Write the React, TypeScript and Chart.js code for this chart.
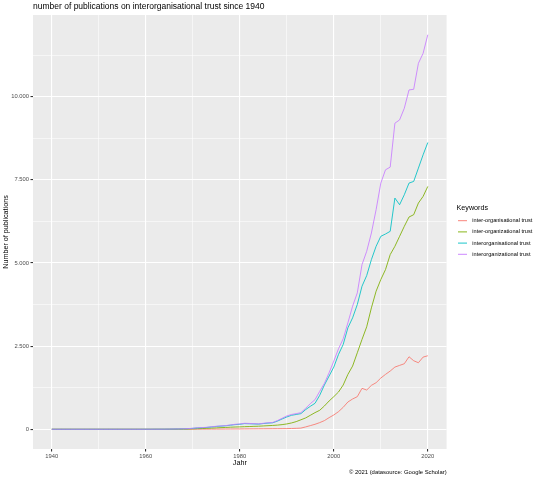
import React, { useEffect, useRef } from 'react';
import { Chart, registerables } from 'chart.js';

Chart.register(...registerables);

const years = [
  1940, 1941, 1942, 1943, 1944, 1945, 1946, 1947, 1948, 1949,
  1950, 1951, 1952, 1953, 1954, 1955, 1956, 1957, 1958, 1959,
  1960, 1961, 1962, 1963, 1964, 1965, 1966, 1967, 1968, 1969,
  1970, 1971, 1972, 1973, 1974, 1975, 1976, 1977, 1978, 1979,
  1980, 1981, 1982, 1983, 1984, 1985, 1986, 1987, 1988, 1989,
  1990, 1991, 1992, 1993, 1994, 1995, 1996, 1997, 1998, 1999,
  2000, 2001, 2002, 2003, 2004, 2005, 2006, 2007, 2008, 2009,
  2010, 2011, 2012, 2013, 2014, 2015, 2016, 2017, 2018, 2019,
  2020,
];

const keywords = [
  'inter-organisational trust',
  'inter-organizational trust',
  'interorganisational trust',
  'interorganizational trust',
];

const seriesColors = ['#F8766D', '#7CAE00', '#00BFC4', '#C77CFF'];

// inter-organisational trust
const interOrganisational = [
  0, 0, 0, 0, 0, 0, 0, 0, 0, 0,
  0, 0, 0, 0, 0, 0, 0, 0, 0, 0,
  0, 0, 0, 0, 0, 0, 0, 1, 1, 1,
  2, 2, 3, 3, 4, 5, 6, 7, 8, 9,
  10, 11, 12, 13, 14, 15, 16, 17, 18, 19,
  20, 24, 28, 35, 70, 110, 150, 200, 260, 350,
  430, 530, 660, 820, 910, 980, 1230, 1180, 1320, 1400,
  1540, 1650, 1750, 1870, 1920, 1970, 2180, 2060, 2000, 2170,
  2210,
];

// inter-organizational trust
const interOrganizational = [
  0, 0, 0, 0, 0, 0, 0, 0, 0, 0,
  0, 0, 0, 0, 0, 0, 0, 0, 0, 0,
  0, 0, 1, 1, 1, 2, 3, 4, 6, 8,
  12, 18, 22, 28, 35, 42, 50, 55, 62, 68,
  72, 78, 82, 88, 92, 100, 108, 115, 125, 140,
  160, 190, 230, 285, 340, 420, 500, 570, 700, 850,
  980, 1120, 1330, 1650, 1900, 2300, 2700, 3080, 3650, 4150,
  4500, 4800, 5250, 5500, 5800, 6100, 6380, 6450, 6800, 7000,
  7300,
];

// interorganisational trust
const interorganisational = [
  0, 0, 0, 0, 0, 0, 0, 0, 0, 0,
  0, 0, 0, 0, 0, 0, 0, 0, 0, 0,
  1, 1, 2, 2, 3, 4, 7, 9, 13, 18,
  27, 40, 46, 55, 70, 85, 95, 105, 122, 140,
  150, 170, 165, 160, 155, 172, 185, 195, 245, 310,
  370, 420, 445, 470, 590, 690, 780, 1020, 1330, 1600,
  1870, 2250, 2550, 3050, 3350, 3750, 4300, 4620, 5100, 5500,
  5800, 5870, 5950, 6950, 6750, 7050, 7400, 7450, 7850, 8250,
  8620,
];

// interorganizational trust
const interorganizational = [
  0, 0, 0, 0, 0, 0, 0, 0, 0, 0,
  0, 0, 0, 0, 0, 0, 0, 0, 0, 0,
  1, 1, 2, 2, 3, 5, 8, 10, 15, 20,
  30, 45, 50, 60, 75, 90, 100, 110, 130, 150,
  160, 180, 175, 168, 162, 180, 195, 205, 260, 330,
  400, 445, 470, 500, 630, 770, 890, 1140, 1380, 1700,
  2050, 2420, 2720, 3200, 3700, 4100, 4950, 5350, 5900, 6600,
  7400, 7800, 7880, 9200, 9300, 9650, 10200, 10220, 11000, 11300,
  11860,
];

const seriesValues = [interOrganisational, interOrganizational, interorganisational, interorganizational];

const xTicks = [1940, 1950, 1960, 1970, 1980, 1990, 2000, 2010, 2020];
const xMajor = [1940, 1960, 1980, 2000, 2020];
const yTicks = [0, 1250, 2500, 3750, 5000, 6250, 7500, 8750, 10000, 11250];
const yMajor = [0, 2500, 5000, 7500, 10000];

const titleText = 'number of publications on interorganisational trust since 1940';
const xTitle = 'Jahr';
const yTitle = 'Number of publications';
const captionText = '© 2021 (datasource: Google Scholar)';
const legendTitle = 'Keywords';

const FONT = '"Liberation Sans", Arial, sans-serif';

function fmt(v: number): string {
  return String(v).replace(/\B(?=(\d{3})+(?!\d))/g, '.');
}

export default function App() {
  const ref = useRef<HTMLCanvasElement>(null);

  useEffect(() => {
    const canvas = ref.current;
    if (!canvas) return;

    const bgPlugin = {
      id: 'panelBg',
      beforeDraw(chart: any) {
        const { ctx, chartArea } = chart;
        ctx.save();
        ctx.fillStyle = '#EBEBEB';
        ctx.fillRect(chartArea.left, chartArea.top, chartArea.right - chartArea.left, chartArea.bottom - chartArea.top);
        ctx.restore();
      },
    };

    const textPlugin = {
      id: 'texts',
      afterDraw(chart: any) {
        const { ctx, chartArea } = chart;
        ctx.save();
        ctx.fillStyle = '#000000';
        // title
        ctx.font = `8.5px ${FONT}`;
        ctx.textAlign = 'left';
        ctx.textBaseline = 'alphabetic';
        ctx.fillText(titleText, chartArea.left, 9.4);
        // x title
        ctx.font = `7.2px ${FONT}`;
        ctx.textAlign = 'center';
        ctx.textBaseline = 'middle';
        ctx.fillText(xTitle, (chartArea.left + chartArea.right) / 2, 463);
        // y title
        ctx.save();
        ctx.translate(6.5, (chartArea.top + chartArea.bottom) / 2);
        ctx.rotate(-Math.PI / 2);
        ctx.fillText(yTitle, 0, 0);
        ctx.restore();
        // caption
        ctx.font = `5.9px ${FONT}`;
        ctx.textAlign = 'right';
        ctx.fillText(captionText, chartArea.right, 472);
        // legend
        ctx.textAlign = 'left';
        ctx.font = `7.2px ${FONT}`;
        ctx.fillText(legendTitle, 456.5, 208.5);
        ctx.font = `5.6px ${FONT}`;
        keywords.forEach((k, i) => {
          const y = 220.7 + i * 11.2;
          ctx.strokeStyle = seriesColors[i];
          ctx.lineWidth = 0.9;
          ctx.beginPath();
          ctx.moveTo(458, y);
          ctx.lineTo(467, y);
          ctx.stroke();
          ctx.fillStyle = '#000000';
          ctx.fillText(k, 472.3, y);
        });
        ctx.restore();
      },
    };

    const datasets = keywords.map((k, i) => ({
      label: k,
      data: years.map((yr, j) => ({ x: yr, y: seriesValues[i][j] })),
      borderColor: seriesColors[i],
      backgroundColor: seriesColors[i],
      borderWidth: 0.85,
      pointRadius: 0,
      tension: 0,
      fill: false,
      order: keywords.length - 1 - i,
    }));

    const chart = new Chart(canvas, {
      type: 'line',
      data: { datasets },
      options: {
        animation: false,
        responsive: false,
        devicePixelRatio: 1,
        layout: { padding: { left: 0, top: 15, right: 540 - 446.6, bottom: 0 } },
        plugins: {
          legend: { display: false },
          title: { display: false },
          tooltip: { enabled: false },
        },
        scales: {
          x: {
            type: 'linear',
            min: 1936,
            max: 2024,
            afterBuildTicks: (axis: any) => {
              axis.ticks = xTicks.map((v) => ({ value: v }));
            },
            afterFit: (s: any) => {
              s.height = 30;
            },
            ticks: {
              autoSkip: false,
              maxRotation: 0,
              minRotation: 0,
              padding: 1,
              color: '#4D4D4D',
              font: { family: FONT, size: 5.8 },
              callback: (v: any) => (xMajor.includes(Number(v)) ? String(v) : ''),
            },
            grid: {
              color: '#FFFFFF',
              lineWidth: (c: any) => (c.tick && xMajor.includes(c.tick.value) ? 1.1 : 0.55),
              tickColor: (c: any) => (c.tick && xMajor.includes(c.tick.value) ? '#333333' : 'rgba(0,0,0,0)'),
              tickLength: 2.5,
              drawTicks: true,
            },
            border: { display: false },
          },
          y: {
            type: 'linear',
            min: -593,
            max: 12453,
            afterBuildTicks: (axis: any) => {
              axis.ticks = yTicks.map((v) => ({ value: v }));
            },
            afterFit: (s: any) => {
              s.width = 33;
            },
            ticks: {
              autoSkip: false,
              padding: 1.5,
              color: '#4D4D4D',
              font: { family: FONT, size: 5.8 },
              callback: (v: any) => (yMajor.includes(Number(v)) ? fmt(Number(v)) : ''),
            },
            grid: {
              color: '#FFFFFF',
              lineWidth: (c: any) => (c.tick && yMajor.includes(c.tick.value) ? 1.1 : 0.55),
              tickColor: (c: any) => (c.tick && yMajor.includes(c.tick.value) ? '#333333' : 'rgba(0,0,0,0)'),
              tickLength: 2.5,
              drawTicks: true,
            },
            border: { display: false },
          },
        },
      },
      plugins: [bgPlugin, textPlugin],
    } as any);

    return () => chart.destroy();
  }, []);

  return (
    <div style={{ position: 'fixed', left: 0, top: 0, width: 540, height: 479, background: '#FFFFFF' }}>
      <canvas ref={ref} width={540} height={479} style={{ width: 540, height: 479, display: 'block' }} />
    </div>
  );
}
